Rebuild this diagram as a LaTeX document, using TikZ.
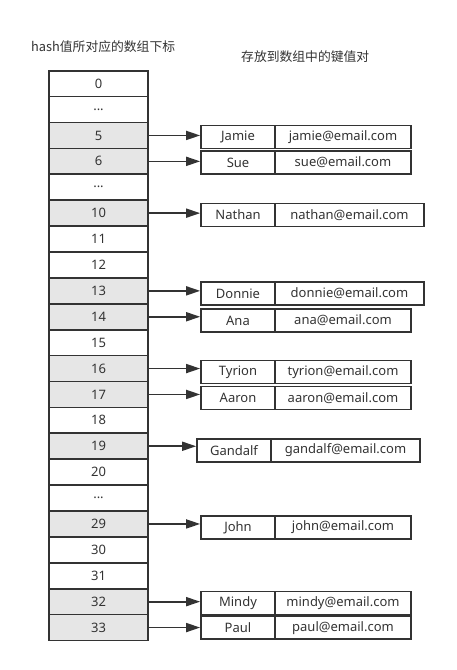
\documentclass[tikz,border=0pt]{standalone}
\usepackage{fontspec}
\setmainfont{Noto Sans}
\newfontfamily\cjk{Noto Sans CJK SC}
\usetikzlibrary{arrows.meta}
\definecolor{lc}{HTML}{333333}
\definecolor{sh}{HTML}{E6E6E6}
\newcommand\myddd{...}
\begin{document}
\begin{tikzpicture}[x=1pt,y=-1pt,
  rowcell/.style={draw=lc, line width=1.7pt, minimum width=98.7pt, minimum height=25.9pt, inner sep=0pt, text=lc, font=\fontsize{13}{14}\selectfont},
  kvcell/.style={draw=lc, line width=1.7pt, minimum height=23pt, inner sep=0pt, text=lc, font=\fontsize{13}{14}\selectfont},
  arr/.style={draw=lc, line width=1.7pt, -{Triangle[length=14pt,width=9pt]}},
  title/.style={text=lc, font=\cjk\fontsize{12.8}{14}\selectfont, inner sep=0pt}]
\useasboundingbox (0,0) rectangle (456,670);
\node[title, anchor=west] (t1) at (31,47) {hash值所对应的数组下标};
\node[title, anchor=west] (t2) at (241,57) {存放到数组中的键值对};
\foreach \i/\t/\n/\f in {0/0/r0/white, 1/\myddd/rd1/white, 2/5/r5/sh, 3/6/r6/sh, 4/\myddd/rd2/white,
  5/10/r10/sh, 6/11/r11/white, 7/12/r12/white, 8/13/r13/sh, 9/14/r14/sh, 10/15/r15/white,
  11/16/r16/sh, 12/17/r17/sh, 13/18/r18/white, 14/19/r19/sh, 15/20/r20/white, 16/\myddd/rd3/white,
  17/29/r29/sh, 18/30/r30/white, 19/31/r31/white, 20/32/r32/sh, 21/33/r33/sh}
  \node[rowcell, fill=\f] (\n) at (98.5, {70.7+25.9*(\i+0.5)}) {\t};
% key/value pairs
\node[kvcell, minimum width=74pt] (k5) at (238,137) {Jamie};
\node[kvcell, minimum width=136pt] (v5) at (343,137) {jamie@email.com};
\node[kvcell, minimum width=74pt] (k6) at (238,162.5) {Sue};
\node[kvcell, minimum width=136pt] (v6) at (343,162.5) {sue@email.com};
\node[kvcell, minimum width=74pt] (k10) at (238,215) {Nathan};
\node[kvcell, minimum width=149pt] (v10) at (349.5,215) {nathan@email.com};
\node[kvcell, minimum width=74pt] (k13) at (238,293.5) {Donnie};
\node[kvcell, minimum width=149pt] (v13) at (349.5,293.5) {donnie@email.com};
\node[kvcell, minimum width=74pt] (k14) at (238,320.5) {Ana};
\node[kvcell, minimum width=136pt] (v14) at (343,320.5) {ana@email.com};
\node[kvcell, minimum width=74pt] (k16) at (238,372) {Tyrion};
\node[kvcell, minimum width=136pt] (v16) at (343,372) {tyrion@email.com};
\node[kvcell, minimum width=74pt] (k17) at (238,398) {Aaron};
\node[kvcell, minimum width=136pt] (v17) at (343,398) {aaron@email.com};
\node[kvcell, minimum width=74pt] (k19) at (234,450.5) {Gandalf};
\node[kvcell, minimum width=149pt] (v19) at (345.5,450.5) {gandalf@email.com};
\node[kvcell, minimum width=74pt] (k29) at (238,527.5) {John};
\node[kvcell, minimum width=136pt] (v29) at (343,527.5) {john@email.com};
\node[kvcell, minimum width=74pt] (k32) at (238,603) {Mindy};
\node[kvcell, minimum width=136pt] (v32) at (343,603) {mindy@email.com};
\node[kvcell, minimum width=74pt] (k33) at (238,627.7) {Paul};
\node[kvcell, minimum width=136pt] (v33) at (343,627.7) {paul@email.com};
\foreach \n in {5,6,10,13,14,16,17,19,29,32,33}
  \draw[arr] (r\n.east) -- (r\n.east -| k\n.west);
\end{tikzpicture}
\end{document}
